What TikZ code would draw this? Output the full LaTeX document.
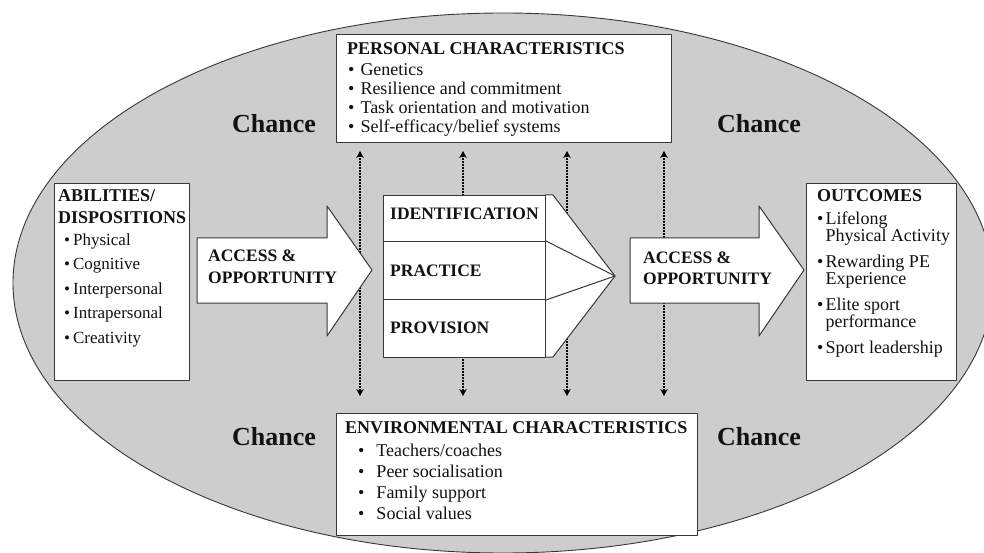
\documentclass[tikz,border=0pt]{standalone}
\usepackage{fontspec}
\setmainfont{Liberation Serif}
\usetikzlibrary{arrows.meta,positioning,calc}

\definecolor{chancegray}{RGB}{205,205,205}
\definecolor{edgegray}{RGB}{55,55,55}
\definecolor{inkblack}{RGB}{18,18,18}

\tikzset{
  box/.style={draw=edgegray, fill=white, line width=1pt, inner sep=0pt, anchor=north west},
  bigarrow/.style={draw=edgegray, fill=white, line width=1pt},
  lbl/.style={inner sep=0pt, anchor=base west, align=left, text=inkblack},
  chance/.style={lbl, font=\fontsize{26}{30}\selectfont\bfseries},
  link/.style={draw=black, line width=1.6pt, dash pattern=on 1.5pt off 1.5pt,
    {Stealth[length=7pt,width=7.5pt]}-{Stealth[length=7pt,width=7.5pt]},
    shorten <=8pt, shorten >=17pt}
}

\begin{document}
\begin{tikzpicture}[x=1pt, y=-1pt, line join=round]

\useasboundingbox (0,0) rectangle (984,553);
\clip (0,0) rectangle (984,553);

% --- ellipse of chance ---
\def\cx{503}
\def\cy{283}
\filldraw[fill=chancegray, draw=edgegray, line width=0.9pt]
  (\cx,\cy) ellipse [x radius=490, y radius=270];

\node[chance] (chancetl) at (232,133) {Chance};
\node[chance] (chancetr) at (717,133) {Chance};
\node[chance] (chancebl) at (232,445) {Chance};
\node[chance] (chancebr) at (717,445) {Chance};

% --- characteristics boxes ---
\node[box, minimum width=335pt, minimum height=108pt] (personal) at (336,34) {};
\node[box, minimum width=361pt, minimum height=122pt] (environment) at (336,413) {};

% dotted two-way links (under the white shapes)
\foreach \lx in {360,463,567,664}
  \draw[link] (\lx,0 |- personal.south) -- (\lx,0 |- environment.north);

% --- side boxes ---
\node[box, minimum width=135pt, minimum height=197pt] (abilities) at (54,183) {};
\node[box, minimum width=150pt, minimum height=197pt] (outcomes) at (806,183) {};

% --- access arrows ---
\filldraw[bigarrow] (197,238) -- (327,238) -- (327,206) -- (372,270)
  -- (327,336) -- (327,303) -- (197,303) -- cycle;
\filldraw[bigarrow] (630,238) -- (759,238) -- (759,206) -- (804,270)
  -- (759,336) -- (759,303) -- (630,303) -- cycle;

% --- stages with chevron ---
\coordinate (tip) at (615,276);
\filldraw[bigarrow] (545,195) -- (553,195) -- (tip) -- (553,357) -- (545,357) -- cycle;
\node[box, minimum width=162pt, minimum height=46pt] (identbox) at (383,195) {};
\node[box, minimum width=162pt, minimum height=58pt] (practbox) at (383,241) {};
\node[box, minimum width=162pt, minimum height=58pt] (provbox) at (383,299) {};
\draw[draw=edgegray, line width=1pt] (practbox.north east) -- (tip) -- (practbox.south east);

% --- texts (multi-line nodes sit on the baseline of their last line) ---
\node[lbl, font=\fontsize{18}{19}\selectfont\bfseries] (perstitle) at (347,55)
  {PERSONAL CHARACTERISTICS};
\node[lbl, font=\fontsize{18}{19}\selectfont] (perslist) at (348,133)
  {\textbullet\hspace{6pt}Genetics\\
   \textbullet\hspace{6pt}Resilience and commitment\\
   \textbullet\hspace{6pt}Task orientation and motivation\\
   \textbullet\hspace{6pt}Self-efficacy/belief systems};

\node[lbl, font=\fontsize{18}{20.7}\selectfont\bfseries] (envtitle) at (345,433)
  {ENVIRONMENTAL CHARACTERISTICS};
\node[lbl, font=\fontsize{18}{20.7}\selectfont] (envlist) at (358,519)
  {\textbullet\hspace{12pt}Teachers/coaches\\
   \textbullet\hspace{12pt}Peer socialisation\\
   \textbullet\hspace{12pt}Family support\\
   \textbullet\hspace{12pt}Social values};

\node[lbl, font=\fontsize{18}{22}\selectfont\bfseries] (abiltitle) at (58,224)
  {ABILITIES/\\DISPOSITIONS};
\node[lbl, font=\fontsize{17}{24.5}\selectfont] (abillist) at (64,343)
  {\textbullet\hspace{3pt}Physical\\
   \textbullet\hspace{3pt}Cognitive\\
   \textbullet\hspace{3pt}Interpersonal\\
   \textbullet\hspace{3pt}Intrapersonal\\
   \textbullet\hspace{3pt}Creativity};

\node[lbl, font=\fontsize{18}{17}\selectfont\bfseries] (outtitle) at (817,202) {OUTCOMES};
\node[lbl, font=\fontsize{18}{17}\selectfont] (outlist) at (817,353)
  {\textbullet\hspace{2pt}Lifelong\\
   \hphantom{\textbullet\hspace{2pt}}Physical Activity\\[9pt]
   \textbullet\hspace{2pt}Rewarding PE\\
   \hphantom{\textbullet\hspace{2pt}}Experience\\[9pt]
   \textbullet\hspace{2pt}Elite sport\\
   \hphantom{\textbullet\hspace{2pt}}performance\\[9pt]
   \textbullet\hspace{2pt}Sport leadership};

\node[lbl, font=\fontsize{17.5}{21}\selectfont\bfseries] (accessl) at (208,283)
  {ACCESS \&\\OPPORTUNITY};
\node[lbl, font=\fontsize{17.5}{21}\selectfont\bfseries] (accessr) at (643,284)
  {ACCESS \&\\OPPORTUNITY};

\node[lbl, font=\fontsize{17.5}{21}\selectfont\bfseries] (ident) at (390,219) {IDENTIFICATION};
\node[lbl, font=\fontsize{17.5}{21}\selectfont\bfseries] (practice) at (390,276) {PRACTICE};
\node[lbl, font=\fontsize{17.5}{21}\selectfont\bfseries] (provision) at (390,333) {PROVISION};

\end{tikzpicture}
\end{document}
